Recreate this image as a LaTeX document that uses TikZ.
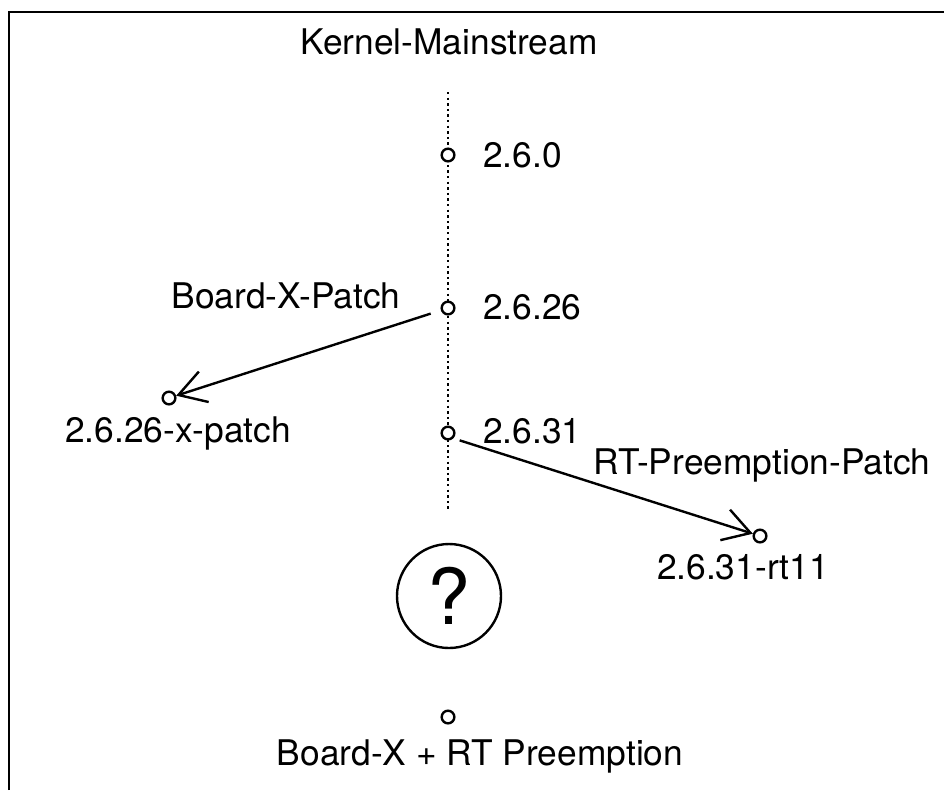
\documentclass[tikz,border=0pt]{standalone}
\usepackage{fontspec}
\setmainfont{TeX Gyre Heros}
\usetikzlibrary{arrows.meta}
\begin{document}
\begin{tikzpicture}[x=0.75pt,y=-0.75pt,
        ver/.style={circle, draw, fill=white, line width=1.8pt, inner sep=0pt, minimum size=9.5pt},
        lbl/.style={font=\fontsize{26.5}{31}\selectfont, inner sep=0pt},
        patch/.style={line width=1.8pt, -{Straight Barb[length=20pt,width=24pt]}}]
        \useasboundingbox (0,0) rectangle (944,790);
        \draw[line width=1.6pt] (9,790) -- (9,12) -- (944,12);

        \node[lbl] (title) at (449,42) {Kernel-Mainstream};
        \coordinate (top) at (448,92);
        \coordinate (bot) at (448,511);
        \draw[line width=1.8pt, dash pattern=on 1.8pt off 2.4pt] (top) -- (bot);

        \node[ver] (v0) at (448,155) {};
        \node[lbl, anchor=west] (l0) at (483,155) {2.6.0};
        \node[ver] (v26) at (448,308) {};
        \node[lbl, anchor=west] (l26) at (483,307) {2.6.26};
        \node[ver] (v31) at (448,433) {};
        \node[lbl, anchor=west] (l31) at (483,431) {2.6.31};

        \node[ver] (x26) at (169,398) {};
        \node[lbl] (lx26) at (178,433) {2.6.26-x-patch};
        \node[lbl] (bx) at (286,296) {Board-X-Patch};
        \draw[patch, shorten <=8pt] (v26) -- (x26);

        \node[ver] (rt) at (760,536) {};
        \node[lbl] (lrt) at (743,567) {2.6.31-rt11};
        \node[lbl] (brt) at (762,465) {RT-Preemption-Patch};
        \draw[patch, shorten <=5pt] (v31.-45) -- (rt);

        \node[circle, draw, line width=1.8pt, minimum size=78pt, inner sep=0pt,
              font=\fontsize{58}{64}\selectfont] (q) at (449,596) {?};

        \node[ver] (fin) at (448,717) {};
        \node[lbl] (lfin) at (480,756) {Board-X + RT Preemption};
\end{tikzpicture}
\end{document}
